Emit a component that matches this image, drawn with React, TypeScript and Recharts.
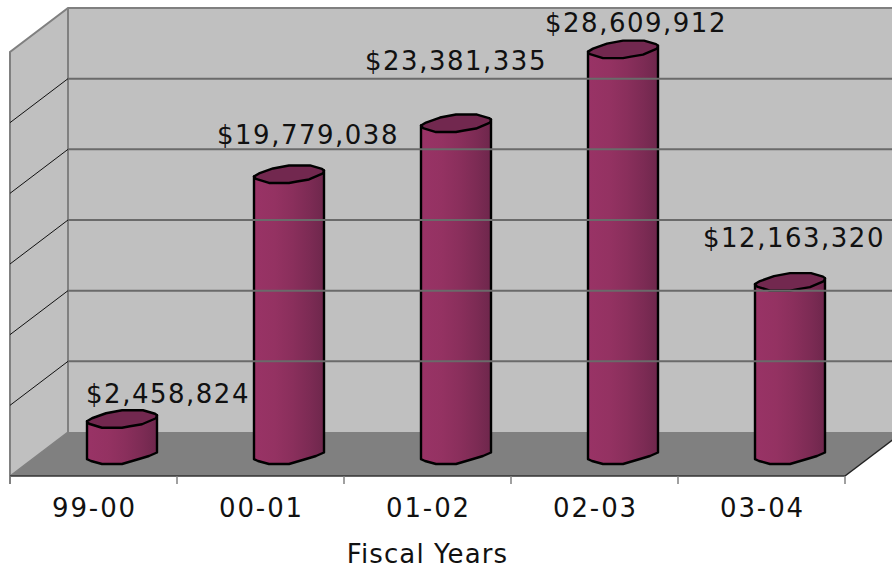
import React from 'react';
import { BarChart, Bar, XAxis, YAxis, LabelList, Label, usePlotArea } from 'recharts';

const fiscalYears = ['99-00', '00-01', '01-02', '02-03', '03-04'];
const amounts = [2458824, 19779038, 23381335, 28609912, 12163320];
const valueTicks = [0, 5000000, 10000000, 15000000, 20000000, 25000000, 30000000];

// hand placed data labels, relative to the middle of each cylinder's top
const labelNudgeX = [46, 19, 0, 13, 4];
const labelNudgeY = [-16, -30, -54, -18, -35];

const chartData = fiscalYears.map((year, i) => ({ year, amount: amounts[i] }));

const WIDTH = 892;
const HEIGHT = 571;
const PLOT_LEFT = 10;
const DEPTH_X = 58;
const DEPTH_Y = 44;
const COLUMN_SHIFT = 28;
const BAND = 167;
const FONT = '"DejaVu Sans", Verdana, sans-serif';
const TEXT = '#111111';
const EDGE = '#808080';

// outline of the cylinder's end cap, relative to its centre
const capOutline: [number, number][] = [
  [-35, 2], [-30, -1], [-16, -6], [0, -9], [21, -9], [33, -5.5], [35, -4],
  [34, -1], [20, 5], [8, 7], [0, 8.5], [-20, 8.5], [-33, 4.5],
];
const baseCurve: [number, number][] = [
  [-35, 5.2], [-31, 7], [-20, 10], [0, 10], [17, 5], [27, 2], [35, -1.5],
];

const toPoints = (pts: [number, number][], cx: number, cy: number) =>
  pts.map(([dx, dy]) => `${cx + dx},${cy + dy}`).join(' ');

// back wall, side wall and floor of the box behind the columns
const Box = () => {
  const plot = usePlotArea();
  if (!plot) return null;
  const { x, y, width, height } = plot;
  const bottom = y + height;
  const right = x + width;
  return (
    <g>
      <polygon
        points={`${x + DEPTH_X},${y - DEPTH_Y} ${right + DEPTH_X},${y - DEPTH_Y} ${right + DEPTH_X},${bottom - DEPTH_Y} ${x + DEPTH_X},${bottom - DEPTH_Y}`}
        fill="#c0c0c0"
      />
      <polygon
        points={`${x},${y} ${x + DEPTH_X},${y - DEPTH_Y} ${x + DEPTH_X},${bottom - DEPTH_Y} ${x},${bottom}`}
        fill="#c0c0c0"
      />
      <polygon
        points={`${x},${bottom} ${right},${bottom} ${right + DEPTH_X},${bottom - DEPTH_Y} ${x + DEPTH_X},${bottom - DEPTH_Y}`}
        fill="#808080"
      />
      <polyline
        points={`${x},${bottom + 8} ${x},${y} ${x + DEPTH_X},${y - DEPTH_Y} ${WIDTH},${y - DEPTH_Y}`}
        fill="none"
        stroke={EDGE}
        strokeWidth={2}
      />
      <line x1={x + DEPTH_X} y1={y - DEPTH_Y} x2={x + DEPTH_X} y2={bottom - DEPTH_Y} stroke={EDGE} strokeWidth={2} />
      <line x1={x} y1={bottom} x2={x + DEPTH_X} y2={bottom - DEPTH_Y} stroke={EDGE} strokeWidth={1.5} />
      <line x1={right} y1={bottom} x2={right + DEPTH_X} y2={bottom - DEPTH_Y} stroke="#222222" strokeWidth={1.5} />
      <line x1={x} y1={bottom} x2={right} y2={bottom} stroke="#333333" strokeWidth={1.5} />
    </g>
  );
};

// the gridlines run along the side wall and then across the back wall
const WallGridTick = (props: any) => {
  const { y, index } = props;
  if (index === 0 || index === valueTicks.length - 1) return null;
  return (
    <g>
      <line x1={PLOT_LEFT} y1={y} x2={PLOT_LEFT + DEPTH_X} y2={y - DEPTH_Y} stroke="#111111" strokeWidth={1} />
      <line x1={PLOT_LEFT + DEPTH_X} y1={y - DEPTH_Y} x2={WIDTH} y2={y - DEPTH_Y} stroke="#6a6a6a" strokeWidth={2} />
    </g>
  );
};

const YearTick = (props: any) => {
  const { x, y, payload, index } = props;
  const baseY = 476;
  return (
    <g>
      <line x1={x - BAND / 2} y1={baseY} x2={x - BAND / 2} y2={baseY + 8} stroke={EDGE} strokeWidth={1.5} />
      {index === fiscalYears.length - 1 && (
        <line x1={x + BAND / 2} y1={baseY} x2={x + BAND / 2} y2={baseY + 8} stroke={EDGE} strokeWidth={1.5} />
      )}
      <text x={x + 1} y={y + 33} textAnchor="middle" fontFamily={FONT} fontSize={26} letterSpacing={1.9} fill={TEXT}>
        {payload.value}
      </text>
    </g>
  );
};

const Cylinder = (props: any) => {
  const { x, y, width, height } = props;
  const cx = x + width / 2 + COLUMN_SHIFT;
  const top = y - DEPTH_Y / 2;
  const bottom = y + height - DEPTH_Y / 2;
  const side =
    `${cx + capOutline[0][0]},${top + capOutline[0][1]} ` +
    toPoints(baseCurve, cx, bottom) +
    ` ${cx + 35},${top - 4}`;
  return (
    <g strokeLinejoin="round">
      <polygon points={side} fill="url(#cylinderShade)" stroke="#000000" strokeWidth={2.4} />
      <polygon points={toPoints(capOutline, cx, top)} fill="#72284f" stroke="#000000" strokeWidth={2.4} />
    </g>
  );
};

const AmountLabel = (props: any) => {
  const { x, y, width, value, index } = props;
  const cx = x + width / 2 + COLUMN_SHIFT;
  return (
    <text
      x={cx + labelNudgeX[index]}
      y={y - DEPTH_Y / 2 + labelNudgeY[index]}
      textAnchor="middle"
      fontFamily={FONT}
      fontSize={26}
      letterSpacing={1.5}
      fill={TEXT}
    >
      {`$${Number(value).toLocaleString('en-US')}`}
    </text>
  );
};

const App = () => (
  <div style={{ position: 'absolute', left: 0, top: 0, width: WIDTH, height: HEIGHT, background: '#ffffff' }}>
    <BarChart
      width={WIDTH}
      height={HEIGHT}
      data={chartData}
      margin={{ top: 52, right: 47, bottom: 0, left: PLOT_LEFT - 1 }}
    >
      <defs>
        <linearGradient id="cylinderShade" x1="0" y1="0" x2="1" y2="0">
          <stop offset="0" stopColor="#993366" />
          <stop offset="0.3" stopColor="#943262" />
          <stop offset="0.55" stopColor="#8a2f5c" />
          <stop offset="0.8" stopColor="#7c2b54" />
          <stop offset="1" stopColor="#6e274c" />
        </linearGradient>
      </defs>
      <Box />
      <YAxis
        width={1}
        domain={[0, 30000000]}
        ticks={valueTicks}
        axisLine={false}
        tickLine={false}
        tick={<WallGridTick />}
      />
      <XAxis
        dataKey="year"
        height={95}
        axisLine={false}
        tickLine={false}
        interval={0}
        tick={<YearTick />}
      >
        <Label
          value="Fiscal Years"
          position="insideBottom"
          offset={8}
          style={{ fontFamily: FONT, fontSize: 26, letterSpacing: 1.1, fill: TEXT }}
        />
      </XAxis>
      <Bar dataKey="amount" barSize={70} isAnimationActive={false} shape={<Cylinder />}>
        <LabelList dataKey="amount" content={<AmountLabel />} />
      </Bar>
    </BarChart>
  </div>
);

export default App;
